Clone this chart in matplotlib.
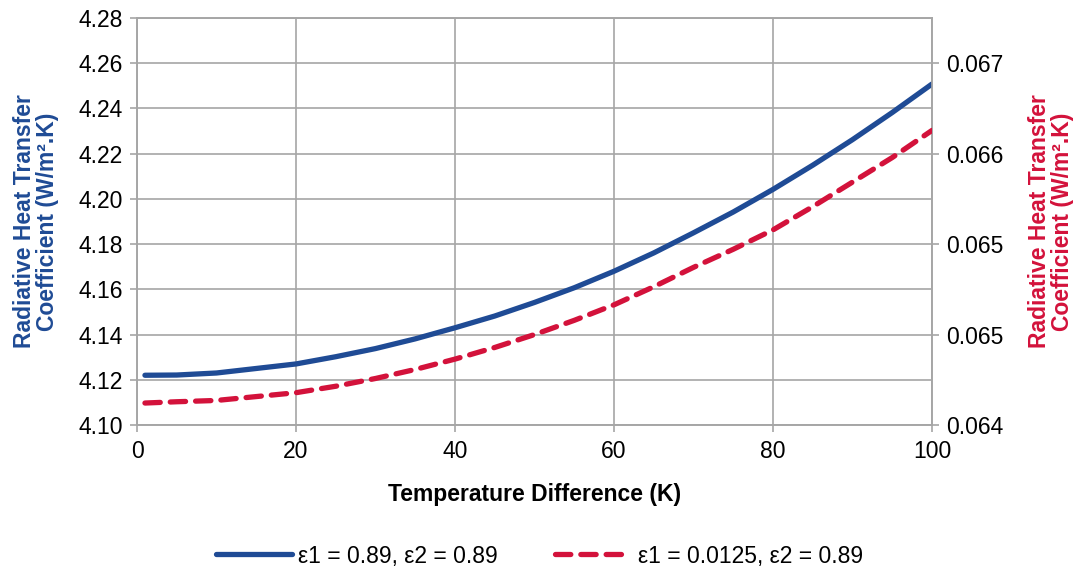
import matplotlib
matplotlib.use('Agg')
import matplotlib.pyplot as plt
from matplotlib.ticker import MultipleLocator, FormatStrFormatter, FixedLocator

plt.rcParams['font.family'] = ['Liberation Sans', 'DejaVu Sans']

# temperature difference (K)
dt = [1, 5, 10, 15, 20, 25, 30, 35, 40, 45, 50,
      55, 60, 65, 70, 75, 80, 85, 90, 95, 100]
# radiative heat transfer coefficient, W/m2.K
h_high = [4.1220, 4.1221, 4.1230, 4.1250, 4.1270, 4.1302, 4.1338, 4.1381, 4.1430, 4.1482, 4.1542,
          4.1607, 4.1680, 4.1761, 4.1850, 4.1942, 4.2042, 4.2149, 4.2262, 4.2382, 4.2508]
h_low = [0.06417, 0.06418, 0.06419, 0.06422, 0.06425, 0.06430, 0.06436, 0.06443, 0.06451, 0.06460, 0.06470,
         0.06481, 0.06493, 0.06507, 0.06522, 0.06536, 0.06551, 0.06569, 0.06588, 0.06607, 0.06628]

labels = ['\u03b51 = 0.89, \u03b52 = 0.89', '\u03b51 = 0.0125, \u03b52 = 0.89']
right_ticks = [0.064, 0.0647, 0.0654, 0.0661, 0.0668]

blue = '#1f4b95'
red = '#d3123b'
grey = '#a6a6a6'
fs = 16.5

fig = plt.figure(figsize=(10.79, 5.72), dpi=100)
ax = fig.add_axes([137 / 1079, 1 - 425 / 572, (932 - 137) / 1079, (425 - 18) / 572])
ax2 = ax.twinx()

l1, = ax.plot(dt, h_high, color=blue, lw=3.8, solid_capstyle='round', zorder=3)
l2, = ax2.plot(dt, h_low, color=red, lw=3.8, dashes=(2.9, 1.9),
               dash_capstyle='round', zorder=3)

ax.set_xlim(0, 100)
ax.set_ylim(4.10, 4.28)
ax.xaxis.set_major_locator(MultipleLocator(20))
ax.yaxis.set_major_locator(MultipleLocator(0.02))
ax.yaxis.set_major_formatter(FormatStrFormatter('%.2f'))
ax.grid(True, color=grey, lw=1.2)
ax.set_axisbelow(True)

ax2.set_ylim(0.064, 0.064 + 4.5 * 0.0007)
ax2.yaxis.set_major_locator(FixedLocator(right_ticks))
ax2.yaxis.set_major_formatter(FormatStrFormatter('%.3f'))

for a in (ax, ax2):
    for s in a.spines.values():
        s.set_color(grey)
        s.set_linewidth(1.2)
    a.tick_params(colors=grey, labelcolor='black', labelsize=fs,
                  length=5, width=1.2, direction='out')
ax.tick_params(axis='y', pad=5)
ax2.tick_params(axis='y', pad=5)
ax.tick_params(axis='x', pad=6)

ax.set_xlabel('Temperature Difference (K)', fontsize=fs, fontweight='bold', labelpad=14)
ax.set_ylabel('Radiative Heat Transfer\nCoefficient (W/m\u00b2.K)', fontsize=fs,
              fontweight='bold', color=blue, linespacing=1.0, labelpad=14)
ax2.set_ylabel('Radiative Heat Transfer\nCoefficient (W/m\u00b2.K)', fontsize=fs,
               fontweight='bold', color=red, linespacing=1.0, labelpad=18)

fig.legend([l1, l2], labels, loc='center', bbox_to_anchor=(0.5, 1 - 556 / 572),
           ncol=2, frameon=False, fontsize=fs, handlelength=3.3,
           handletextpad=0.3, columnspacing=2.5)

fig.savefig('out.png', dpi=100)
